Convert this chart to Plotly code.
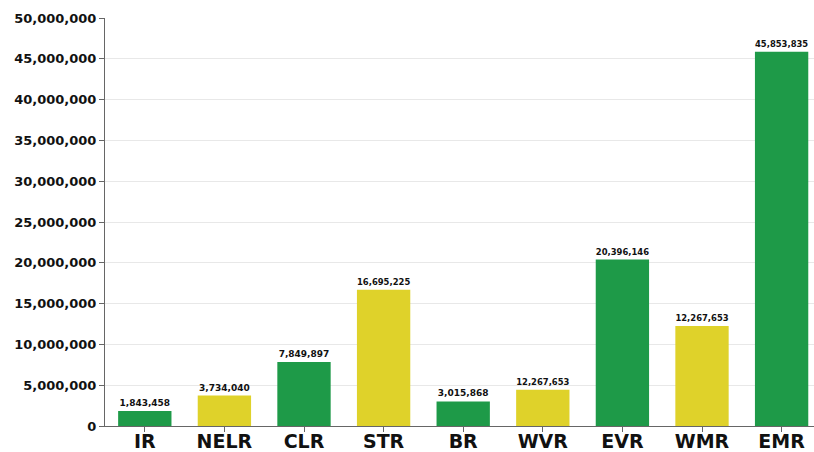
import plotly.graph_objects as go

categories = ["IR", "NELR", "CLR", "STR", "BR", "WVR", "EVR", "WMR", "EMR"]
values = [1843458, 3734040, 7849897, 16695225, 3015868, 4450000, 20396146, 12267653, 45853835]
value_labels = ["1,843,458", "3,734,040", "7,849,897", "16,695,225", "3,015,868",
                "12,267,653", "20,396,146", "12,267,653", "45,853,835"]
bar_colors = ["#1e9a48", "#dfd22a", "#1e9a48", "#dfd22a", "#1e9a48",
              "#dfd22a", "#1e9a48", "#dfd22a", "#1e9a48"]
y_ticks = list(range(0, 50000001, 5000000))

font_family = "DejaVu Sans"

fig = go.Figure(go.Bar(
    x=categories,
    y=values,
    marker=dict(color=bar_colors, line=dict(width=0)),
    text=value_labels,
    textposition="outside",
    textfont=dict(family=font_family, size=9, color="#111111", weight="bold"),
    cliponaxis=False,
    hoverinfo="x+y",
))

fig.update_layout(
    width=814, height=452,
    margin=dict(l=105, r=0, t=18, b=26, autoexpand=False),
    paper_bgcolor="white",
    plot_bgcolor="white",
    bargap=0.33,
    showlegend=False,
    font=dict(family=font_family, color="#111111"),
)

fig.update_xaxes(
    range=[-0.5, 8.407],
    automargin=False,
    showline=True, linecolor="#666666", linewidth=1,
    ticks="outside", ticklen=5, tickcolor="#666666",
    ticklabelstandoff=-7,
    tickfont=dict(family=font_family, size=19, color="#111111", weight="bold"),
    showgrid=False,
)

fig.update_yaxes(
    range=[0, 50000000],
    automargin=False,
    tickvals=y_ticks,
    tickformat=",d",
    showline=True, linecolor="#666666", linewidth=1,
    ticks="outside", ticklen=5, tickcolor="#666666",
    tickfont=dict(family=font_family, size=13, color="#111111", weight="bold"),
    showgrid=True, gridcolor="#e8e8e8", gridwidth=1,
    zeroline=False,
)

fig.write_html(
    "out.html",
    config={"displayModeBar": False},
    post_script="document.body.style.margin='0';document.body.style.overflow='hidden';",
)
